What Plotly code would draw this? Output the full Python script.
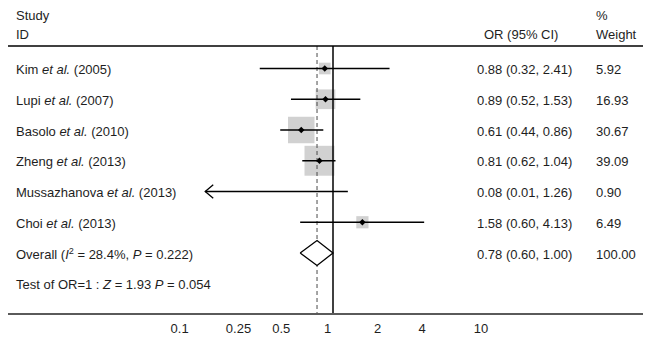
import math
import plotly.graph_objects as go

# ---------------- data ----------------
studies = ["Kim <i>et al.</i> (2005)", "Lupi <i>et al.</i> (2007)",
           "Basolo <i>et al.</i> (2010)", "Zheng <i>et al.</i> (2013)",
           "Mussazhanova <i>et al.</i> (2013)", "Choi <i>et al.</i> (2013)"]
or_est = [0.88, 0.89, 0.61, 0.81, 0.08, 1.58]
ci_low = [0.32, 0.52, 0.44, 0.62, 0.01, 0.60]
ci_high = [2.41, 1.53, 0.86, 1.04, 1.26, 4.13]
weights = [5.92, 16.93, 30.67, 39.09, 0.90, 6.49]

overall_est, overall_low, overall_high, overall_weight = 0.78, 0.60, 1.00, 100.00
overall_label = "Overall (<i>I</i><sup>2</sup> = 28.4%, <i>P</i> = 0.222)"
test_label = "Test of OR=1 : <i>Z</i> = 1.93 <i>P</i> = 0.054"

tick_vals = [0.1, 0.25, 0.5, 1, 2, 4, 10]
tick_text = ["0.1", "0.25", "0.5", "1", "2", "4", "10"]
x_display_min = 0.137   # CIs below this are clipped and drawn with an arrow

# ---------------- geometry / style ----------------
W, H = 651, 340
ML, MR, MT, MB = 8, 8, 0, 27
PX_PER_DEC = 148.0
X1_PX = 333.0
ROW0_PX = 68.5
ROW_PX = 30.75
plot_w = W - ML - MR
plot_h = H - MT - MB

x_range = [(ML - X1_PX) / PX_PER_DEC, (W - MR - X1_PX) / PX_PER_DEC]
y_range = [(MT + plot_h - ROW0_PX) / ROW_PX, (MT - ROW0_PX) / ROW_PX]


def row_of_px(py):
    return (py - ROW0_PX) / ROW_PX


def paper_x(px):
    return (px - ML) / plot_w


FONT = "Liberation Sans, Arial, Helvetica, sans-serif"
TXT = "#1e1e1e"
FS = 13
SQ_K = 4.785
n = len(studies)
rows = list(range(n))
overall_row = n
test_row = n + 1
header_line_row = row_of_px(46)

# labels at or below 1 sit slightly left of their tick in the reference
NBSP = "\u00a0"
tick_pad = {0.1: 3, 0.25: 3, 0.5: 4, 1: 3}
tick_text_drawn = [t + NBSP * tick_pad.get(v, 0) for v, t in zip(tick_vals, tick_text)]

fig = go.Figure()

# weight squares
sq_x = [e for e in or_est if e >= x_display_min]
sq_y = [r for r, e in zip(rows, or_est) if e >= x_display_min]
sq_s = [SQ_K * math.sqrt(w) for w, e in zip(weights, or_est) if e >= x_display_min]
fig.add_trace(go.Scatter(x=sq_x, y=sq_y, mode="markers",
                         marker=dict(symbol="square", size=sq_s, color="#bdbdbd",
                                     line=dict(width=0)),
                         hoverinfo="skip", showlegend=False))

# vertical reference lines
fig.add_trace(go.Scatter(x=[overall_est, overall_est], y=[header_line_row, y_range[0]],
                         mode="lines", line=dict(color="#4a4a4a", width=1, dash="4px,3px"),
                         hoverinfo="skip", showlegend=False))
fig.add_trace(go.Scatter(x=[1, 1], y=[header_line_row, y_range[0]],
                         mode="lines", line=dict(color="black", width=1.5),
                         hoverinfo="skip", showlegend=False))

# CI lines
lx, ly = [], []
arrow_dx = 10 ** (8 / PX_PER_DEC)
arrow_dy = 6.7 / ROW_PX
for r, lo, hi in zip(rows, ci_low, ci_high):
    lo_c = max(lo, x_display_min)
    lx += [lo_c, hi, None]
    ly += [r, r, None]
    if lo < x_display_min:
        lx += [lo_c * arrow_dx, lo_c, lo_c * arrow_dx, None]
        ly += [r - arrow_dy, r, r + arrow_dy, None]
fig.add_trace(go.Scatter(x=lx, y=ly, mode="lines",
                         line=dict(color="black", width=1.3),
                         hoverinfo="skip", showlegend=False))

# point estimates
fig.add_trace(go.Scatter(x=sq_x, y=sq_y, mode="markers",
                         marker=dict(symbol="diamond", size=5, color="black"),
                         hoverinfo="skip", showlegend=False))

# overall diamond
dh = 12.5 / ROW_PX
fig.add_trace(go.Scatter(
    x=[overall_low, overall_est, overall_high, overall_est, overall_low],
    y=[overall_row, overall_row - dh, overall_row, overall_row + dh, overall_row],
    mode="lines", fill="toself", fillcolor="white",
    line=dict(color="black", width=1.3),
    hoverinfo="skip", showlegend=False))

# ---------------- text ----------------
ann = []


def add_text(txt, px, row, xanchor="left"):
    ann.append(dict(text=txt, x=paper_x(px), xref="paper", y=row, yref="y",
                    xanchor=xanchor, yanchor="middle", showarrow=False,
                    yshift=-1, font=dict(family=FONT, size=FS, color=TXT)))


add_text("Study", 14, row_of_px(14))
add_text("ID", 14, row_of_px(33))
add_text("OR (95% CI)", 482, row_of_px(33))
add_text("%", 594, row_of_px(14))
add_text("Weight", 594, row_of_px(33))

for r, s, e, lo, hi, w in zip(rows, studies, or_est, ci_low, ci_high, weights):
    add_text(s, 14, r)
    add_text(f"{e:.2f} ({lo:.2f}, {hi:.2f})", 475, r)
    add_text(f"{w:.2f}", 594, r)

add_text(overall_label, 14, overall_row)
add_text(f"{overall_est:.2f} ({overall_low:.2f}, {overall_high:.2f})", 475, overall_row)
add_text(f"{overall_weight:.2f}", 594, overall_row)
add_text(test_label, 14, test_row)

shapes = [dict(type="line", xref="paper", x0=0, x1=1, yref="y",
               y0=header_line_row, y1=header_line_row,
               line=dict(color="black", width=1.5))]

fig.update_layout(
    width=W, height=H,
    margin=dict(l=ML, r=MR, t=MT, b=MB),
    paper_bgcolor="white", plot_bgcolor="white",
    annotations=ann, shapes=shapes, showlegend=False,
    font=dict(family=FONT, size=FS, color=TXT),
    xaxis=dict(type="log", range=x_range, tickvals=tick_vals, ticktext=tick_text_drawn,
               showgrid=False, zeroline=False, showline=True, linecolor="#5a5a5a",
               linewidth=2, ticks="", ticklabelstandoff=2,
               tickfont=dict(family=FONT, size=FS, color=TXT),
               fixedrange=True),
    yaxis=dict(range=y_range, visible=False, showgrid=False, zeroline=False,
               fixedrange=True),
)

fig.write_html("out.html", config={"displayModeBar": False},
               post_script="document.body.style.margin='0px';document.body.style.padding='0px';")
